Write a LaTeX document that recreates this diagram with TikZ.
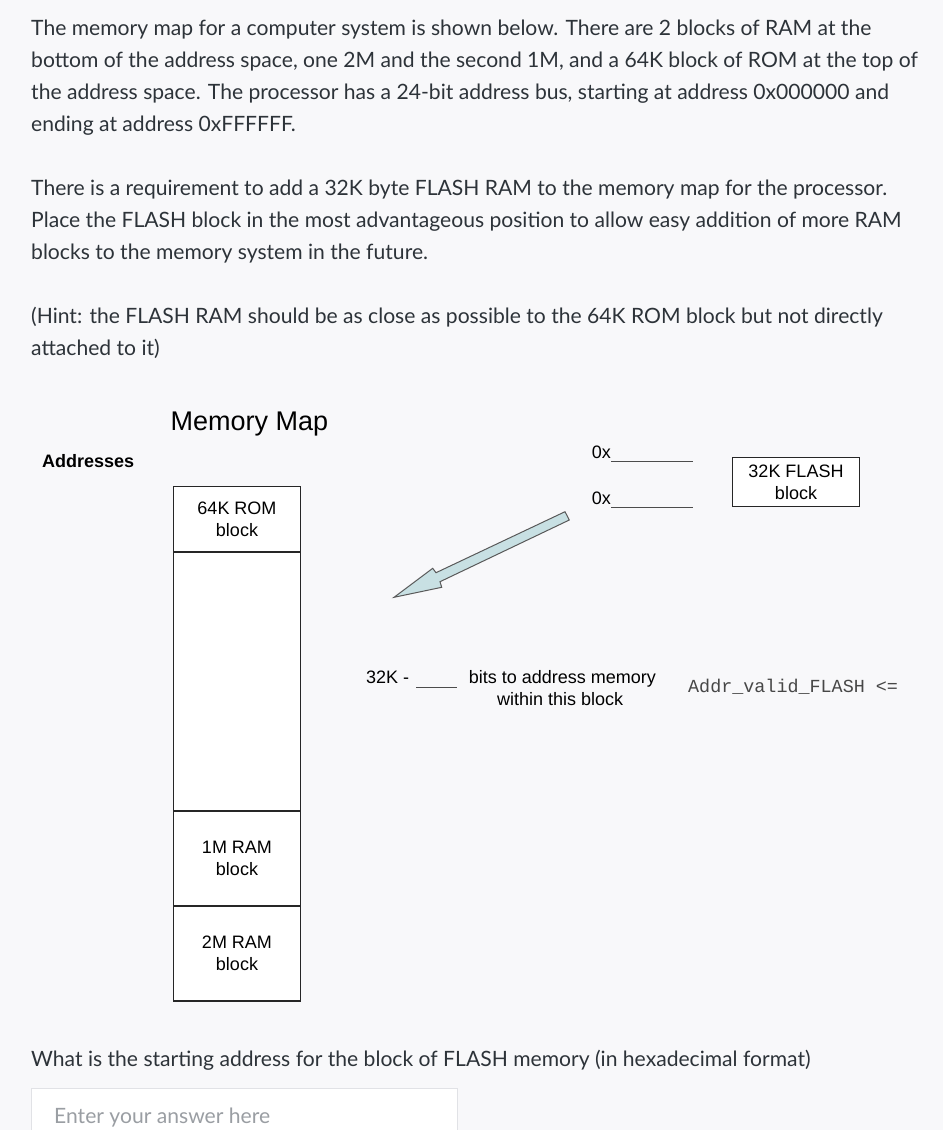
\documentclass[tikz,border=0pt]{standalone}
\usepackage{fontspec}
\setmainfont{Lato}
\newfontfamily\diafont{Liberation Sans}
\newfontfamily\codefont{Liberation Mono}
\usetikzlibrary{positioning}
\definecolor{pagebg}{HTML}{F8F8FA}
\definecolor{bodytext}{HTML}{2D3339}
\definecolor{hinttext}{HTML}{9A9EA3}
\definecolor{arrowfill}{HTML}{C8E0E3}
\definecolor{boxedge}{HTML}{E1E2E6}
\tikzset{
  question/.style={anchor=base west, inner sep=0pt, text=bodytext, font=\fontsize{21.1}{32}\selectfont},
  memblk/.style={draw=black!85, line width=1.3pt, fill=white, minimum width=126.5pt, outer sep=0pt, inner sep=0pt, align=center, font=\diafont\fontsize{18}{22}\selectfont},
  diatext/.style={inner sep=0pt, font=\diafont\fontsize{18}{22}\selectfont},
  blank/.style={draw=black!70, line width=1pt}
}
\begin{document}
\begin{tikzpicture}[x=1pt, y=-1pt]
    \fill[pagebg] (0,0) rectangle (943,1130);
    \useasboundingbox (0,0) rectangle (943,1130);
    \node[question] (p1a) at (31,35) {The memory map for a computer system is shown below. There are 2 blocks of RAM at the};
    \node[question] (p1b) at (31,67) {bottom of the address space, one 2M and the second 1M, and a 64K block of ROM at the top of};
    \node[question] (p1c) at (31,99) {the address space. The processor has a 24-bit address bus, starting at address 0x000000 and};
    \node[question] (p1d) at (31,131) {ending at address 0xFFFFFF.};
    \node[question] (p2a) at (31,195) {There is a requirement to add a 32K byte FLASH RAM to the memory map for the processor.};
    \node[question] (p2b) at (31,227) {Place the FLASH block in the most advantageous position to allow easy addition of more RAM};
    \node[question] (p2c) at (31,259) {blocks to the memory system in the future.};
    \node[question] (p3a) at (31,323) {(Hint: the FLASH RAM should be as close as possible to the 64K ROM block but not directly};
    \node[question] (p3b) at (31,355) {attached to it)};
    \node[diatext, anchor=base, font=\diafont\fontsize{27}{30}\selectfont] (title) at (249.5,430) {Memory Map};
    \node[diatext, anchor=base west, font=\diafont\bfseries\fontsize{18}{20}\selectfont] (addr) at (42,467.3) {Addresses};
    \node[memblk, minimum height=65.7pt] (rom) at (237,519) {64K ROM\\block};
    \node[memblk, minimum height=259pt, below=0pt of rom] (gap) {};
    \node[memblk, minimum height=95pt, below=0pt of gap] (ram1) {1M RAM\\block};
    \node[memblk, minimum height=95pt, below=0pt of ram1] (ram2) {2M RAM\\block};
    \node[diatext, anchor=base west] (ox1) at (591.7,458) {0x};
    \node[diatext, anchor=base west] (ox2) at (591.7,504) {0x};
    \draw[blank] ([yshift=-3pt]ox1.base east) -- ++(82,0);
    \draw[blank] ([yshift=-3pt]ox2.base east) -- ++(82,0);
    \node[memblk, minimum width=126.4pt, minimum height=49pt, line width=1pt] (flash) at (796,482.2) {32K FLASH\\block};
    \draw[draw=black!65, line width=1pt, fill=arrowfill, line join=miter] (565,511.7) -- (569.3,520) -- (440,581.7) -- (441.7,587.3) -- (394,597.3) -- (432.7,568.3) -- (436,572.7) -- cycle;
    \node[diatext, anchor=base west] (k32) at (366,683) {32K -};
    \draw[blank] ([shift={(7,4.7)}]k32.base east) -- ++(40.5,0);
    \node[diatext, anchor=base] (bits1) at (562.4,683) {bits to address memory};
    \node[diatext, anchor=base] (bits2) at (560.2,705) {within this block};
    \node[anchor=base west, inner sep=0pt, text=black!72, font=\codefont\fontsize{18.4}{22}\selectfont] (valid) at (688,692.7) {Addr\_valid\_FLASH <=};
    \node[question] (ask) at (31,1066) {What is the starting address for the block of FLASH memory (in hexadecimal format)};
    \filldraw[fill=white, draw=boxedge, line width=1pt] (31,1131) -- (31,1088) -- (457,1088) -- (457,1131);
    \node[question, text=hinttext] (answer) at (54,1123) {Enter your answer here};
\end{tikzpicture}
\end{document}
